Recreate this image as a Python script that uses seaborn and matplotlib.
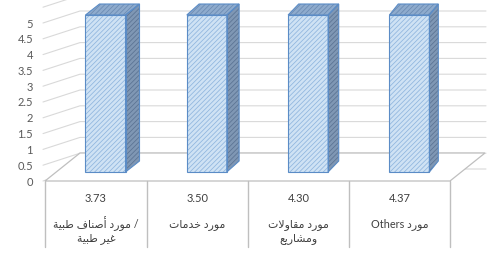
import numpy as np
import pandas as pd
import seaborn as sns
import matplotlib
matplotlib.use('Agg')
import matplotlib.pyplot as plt
from matplotlib.patches import Polygon

## data
cats = ['c1', 'c2', 'c3', 'c4']
bar_heights = [5, 5, 5, 5]
table_vals = ['3.73', '3.50', '4.30', '4.37']
label_lines = [['مورد أصناف طبية /', 'غير طبية'],
               ['مورد خدمات'],
               ['مورد مقاولات', 'ومشاريع'],
               ['Others مورد']]
y_ticks = np.arange(0, 5.01, 0.5)

## minimal arabic shaping (matplotlib has no shaping engine)
FORMS = {
  '\u0627': ('\uFE8D', '\uFE8E', None, None),
  '\u0623': ('\uFE83', '\uFE84', None, None),
  '\u0628': ('\uFE8F', '\uFE90', '\uFE91', '\uFE92'),
  '\u0629': ('\uFE93', '\uFE94', None, None),
  '\u062A': ('\uFE95', '\uFE96', '\uFE97', '\uFE98'),
  '\u062E': ('\uFEA5', '\uFEA6', '\uFEA7', '\uFEA8'),
  '\u062F': ('\uFEA9', '\uFEAA', None, None),
  '\u0631': ('\uFEAD', '\uFEAE', None, None),
  '\u0634': ('\uFEB5', '\uFEB6', '\uFEB7', '\uFEB8'),
  '\u0635': ('\uFEB9', '\uFEBA', '\uFEBB', '\uFEBC'),
  '\u0637': ('\uFEC1', '\uFEC2', '\uFEC3', '\uFEC4'),
  '\u0639': ('\uFEC9', '\uFECA', '\uFECB', '\uFECC'),
  '\u063A': ('\uFECD', '\uFECE', '\uFECF', '\uFED0'),
  '\u0641': ('\uFED1', '\uFED2', '\uFED3', '\uFED4'),
  '\u0642': ('\uFED5', '\uFED6', '\uFED7', '\uFED8'),
  '\u0644': ('\uFEDD', '\uFEDE', '\uFEDF', '\uFEE0'),
  '\u0645': ('\uFEE1', '\uFEE2', '\uFEE3', '\uFEE4'),
  '\u0646': ('\uFEE5', '\uFEE6', '\uFEE7', '\uFEE8'),
  '\u0648': ('\uFEED', '\uFEEE', None, None),
  '\u064A': ('\uFEF1', '\uFEF2', '\uFEF3', '\uFEF4'),
  '\uFEFB': ('\uFEFB', '\uFEFC', None, None),   # lam-alef
}

def shape_word(w):
  w = w.replace('\u0644\u0627', '\uFEFB')
  out = []
  for i, ch in enumerate(w):
    f = FORMS.get(ch)
    if f is None:
      out.append(ch); continue
    prev = i > 0 and w[i-1] in FORMS and FORMS[w[i-1]][2] is not None
    nxt = i < len(w)-1 and w[i+1] in FORMS and f[2] is not None
    out.append(f[{(0,0):0, (1,0):1, (0,1):2, (1,1):3}[(int(prev), int(nxt))]])
  return ''.join(out)[::-1]

def is_ar(t):
  return any('\u0600' <= c <= '\u06FF' for c in t)

def visual(s):
  toks, out, grp = s.split(' '), [], []
  for t in toks + [None]:
    if t is not None and is_ar(t):
      grp.append(t); continue
    if grp:
      out.append(' '.join(shape_word(g) for g in reversed(grp))); grp = []
    if t is not None: out.append(t)
  return ' '.join(out)

################################################
sns.set_theme(style='white')
plt.rcParams['font.family'] = ['Lato', 'DejaVu Sans']
plt.rcParams['hatch.linewidth'] = 0.55

GRID = '#d9d9d9'
LINE = '#bfbfbf'
TXT  = '#404040'

fig = plt.figure(figsize=(4.93, 2.54), dpi=100)

## background: walls, floor, data table (pixel coords)
bg = fig.add_axes([0, 0, 1, 1])
bg.set_xlim(0, 493); bg.set_ylim(254, 0); bg.axis('off')

for k in list(y_ticks) + [5.5]:
  fy = 181 - 31.6*k
  by = fy - 12
  bg.plot([43, 80, 486], [fy, by, by], color=GRID, lw=0.8, zorder=1)

bg.add_patch(Polygon([(45, 181), (80, 153), (485, 153), (450, 181)],
                     closed=True, fc='white', ec=LINE, lw=0.9, zorder=2))
for x in [45, 146.5, 248, 349, 450]:
  bg.plot([x, x], [181, 247], color=LINE, lw=1.0, zorder=2)

for i, (v, lines) in enumerate(zip(table_vals, label_lines)):
  cx = 96 + 101.2*i
  bg.text(cx, 199, v, ha='center', va='center', fontsize=8, color=TXT)
  for j, ln in enumerate(lines):
    bg.text(cx, 224 + 14*j, visual(ln), ha='center', va='center',
            fontsize=7.8, color=TXT)

## y tick labels
axt = fig.add_axes([38/493, (254-181)/254, 0.001, (181-23)/254])
axt.set_ylim(0, 5)
axt.set_yticks(y_ticks)
axt.set_yticklabels(['{:g}'.format(t) for t in y_ticks])
axt.set_xticks([])
axt.tick_params(axis='y', length=0, pad=3.6, labelsize=8, labelcolor='#595959')
for s in axt.spines.values(): s.set_visible(False)
axt.patch.set_alpha(0)

## bars
axb = fig.add_axes([0, 0, 1, 1])
axb.patch.set_alpha(0)
df = pd.DataFrame({'cat': cats, 'val': bar_heights})
sns.barplot(data=df, x='cat', y='val', ax=axb, width=0.395, color='#cfe2f4',
            saturation=1, edgecolor='none')
xs, ys = 101.3, 31.4
axb.set_xlim(-105.5/xs, (493-105.5)/xs)
axb.set_ylim(-(254-172)/ys, 172/ys)
axb.axis('off')

EDGE = '#5b8cc6'
def face(pts, fill, hatch_col):
  axb.add_patch(Polygon(pts, closed=True, fc=fill, ec='none', lw=0, zorder=3))
  axb.add_patch(Polygon(pts, closed=True, fc='none', ec=hatch_col, lw=0,
                        hatch='///////', zorder=4))
  axb.add_patch(Polygon(pts, closed=True, fc='none', ec=EDGE, lw=0.8, zorder=5))

for i, p in enumerate(axb.patches[:len(cats)]):
  x0, w, h = p.get_x(), p.get_width(), p.get_height()
  ox, oy = (14 - 1.7*i)/xs, 11/ys
  face([(x0+w, 0), (x0+w+ox, oy), (x0+w+ox, h+oy), (x0+w, h)], '#7f97b4', '#5a7292')
  face([(x0, h), (x0+ox, h+oy), (x0+w+ox, h+oy), (x0+w, h)], '#8eabcd', '#6a8ab2')
  face([(x0, 0), (x0+w, 0), (x0+w, h), (x0, h)], '#cfe2f4', '#8fb5de')

plt.savefig('out.png', dpi=100)
